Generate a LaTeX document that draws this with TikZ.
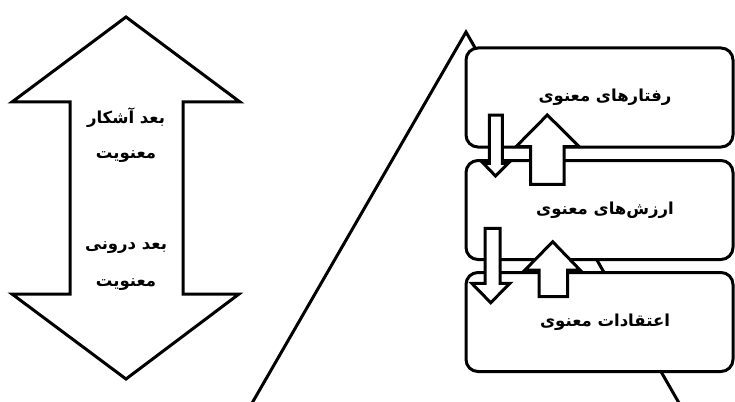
\documentclass[tikz,border=0pt]{standalone}
\usepackage{fontspec}
\newfontfamily\arabicfont[Script=Arabic]{DejaVu Sans}
\TeXXeTstate=1
\newcommand\fatext[1]{{\arabicfont\bfseries\beginR #1\endR}}
\tikzset{
  outline/.style={draw=black, line width=3pt, fill=white, line join=miter},
  stagebox/.style={outline, rounded corners=12pt, minimum width=267pt, minimum height=99pt, inner sep=0pt},
  txt/.style={font=\fontsize{16.5}{19}\selectfont, inner sep=0pt},
}
\begin{document}
\begin{tikzpicture}[x=1pt,y=-1pt]
\useasboundingbox (0,0) rectangle (735,401);
% pyramid behind the boxes
\begin{scope}
\clip (0,0) rectangle (735,401);
\coordinate (apex) at (466,32);
\coordinate (bl) at (225,450);
\coordinate (br) at (706,450);
\draw[line width=3pt] (bl) -- (apex) -- (br);
\end{scope}
% left double arrow
\draw[outline] (126,17) -- (240,102) -- (183,102) -- (183,294) -- (239,294)
  -- (126,379) -- (12,294) -- (70,294) -- (70,102) -- (12,102) -- cycle;
\node[txt] (l1) at (126,118) {\fatext{بعد آشکار}};
\node[txt] (l2) at (126,157) {\fatext{معنویت}};
\node[txt] (l3) at (126,248) {\fatext{بعد درونی}};
\node[txt] (l4) at (126,285) {\fatext{معنویت}};
% boxes
\node[stagebox] (b1) at (599.5,97.5) {};
\node[stagebox] (b2) at (599.5,210) {};
\node[stagebox] (b3) at (599.5,322) {};
\node[txt] (t1) at (605,97) {\fatext{رفتارهای معنوی}};
\node[txt] (t2) at (605,210) {\fatext{ارزش‌های معنوی}};
\node[txt] (t3) at (605,322) {\fatext{اعتقادات معنوی}};
% block arrows between boxes
\draw[outline] (489.3,115) -- (502.3,115) -- (502.3,163.3) -- (508.3,163.3)
  -- (495.5,176) -- (483.3,163.3) -- (489.3,163.3) -- cycle;
\draw[outline] (547.3,115) -- (579.3,146.7) -- (564,146.7) -- (564,184.3)
  -- (530.7,184.3) -- (530.7,146.7) -- (516,146.7) -- cycle;
\draw[outline] (485,228.3) -- (500,228.3) -- (500,283.3) -- (510,283.3)
  -- (490.7,302.7) -- (471.7,283.3) -- (485,283.3) -- cycle;
\draw[outline] (552.7,241.7) -- (580,270) -- (567.7,270) -- (567.7,296.7)
  -- (539,296.7) -- (539,270) -- (525,270) -- cycle;
\end{tikzpicture}
\end{document}
